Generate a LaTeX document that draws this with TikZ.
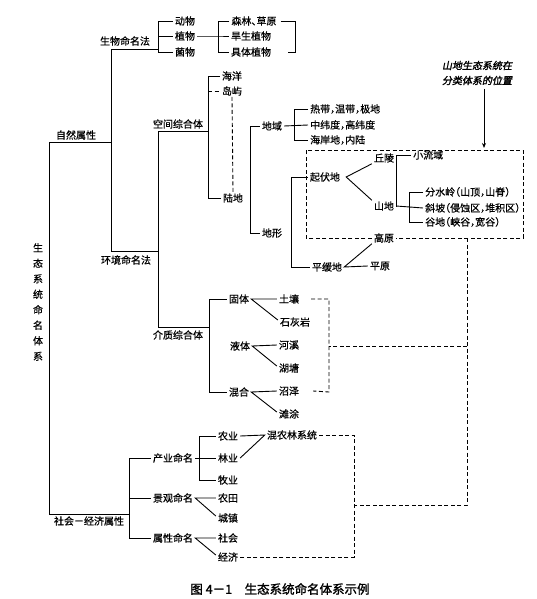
\documentclass[tikz,border=0pt]{standalone}
\usepackage{fontspec}
\newfontfamily\cjk[RawFeature=+halt,FakeBold=0.6]{Noto Sans CJK SC}
\newfontfamily\cjknote[FakeSlant=0.2,FakeBold=1.8]{Noto Sans CJK SC}
\newfontfamily\cjkcap[FakeBold=1.5]{Noto Sans CJK SC}
\usetikzlibrary{arrows.meta}
\begin{document}
\begin{tikzpicture}[x=1pt,y=-1pt,
  lbl/.style={font=\cjk\fontsize{10}{12}\selectfont, inner xsep=2pt, inner ysep=1pt},
  ln/.style={line width=0.9pt},
  dsh/.style={line width=0.9pt, dash pattern=on 4pt off 2.5pt},
]
\useasboundingbox[fill=white] (0,0) rectangle (536,599);

% ---------- nodes ----------
\node[lbl, align=center, font=\cjk\fontsize{10}{15.5}\selectfont] (root) at (38,302) {生\\态\\系\\统\\命\\名\\体\\系};
\node[lbl] (ziran) at (76,135) {自然属性};
\node[lbl] (shehui) at (89,521) {社会－经济属性};
\node[lbl] (swmmf) at (125,41) {生物命名法};
\node[lbl] (hjmmf) at (126,260) {环境命名法};
\node[lbl] (dongwu) at (185,21) {动物};
\node[lbl] (zhiwu) at (185,36) {植物};
\node[lbl] (junwu) at (185,52) {菌物};
\node[lbl] (senlin) at (254,21) {森林、草原};
\node[lbl] (hansheng) at (251,36) {旱生植物};
\node[lbl] (juti) at (251,52) {具体植物};
\node[lbl] (kongjian) at (178,124) {空间综合体};
\node[lbl] (jiezhi) at (178,335) {介质综合体};
\node[lbl] (haiyang) at (232,76) {海洋};
\node[lbl] (daoyu) at (232,91) {岛屿};
\node[lbl] (ludi) at (233,198) {陆地};
\node[lbl] (diyu) at (272,126) {地域};
\node[lbl] (dixing) at (272,233) {地形};
\node[lbl,anchor=west] (redai) at (308,109) {热带，温带，极地};
\node[lbl,anchor=west] (zhongwei) at (308,125) {中纬度，高纬度};
\node[lbl,anchor=west] (haian) at (308,140) {海岸地，内陆};
\node[lbl] (qifu) at (325,177) {起伏地};
\node[lbl] (pinghuan) at (327,267) {平缓地};
\node[lbl] (qiuling) at (384,158) {丘陵};
\node[lbl] (shandi) at (384,206) {山地};
\node[lbl,anchor=west] (xiaoliuyu) at (411,155) {小流域};
\node[lbl,anchor=west] (fenshui) at (423,192) {分水岭（山顶，山脊）};
\node[lbl,anchor=west] (xiepo) at (423,208) {斜坡（侵蚀区，堆积区）};
\node[lbl,anchor=west] (gudi) at (423,222) {谷地（峡谷，宽谷）};
\node[lbl] (gaoyuan) at (384,238) {高原};
\node[lbl] (pingyuan) at (380,266) {平原};
\node[lbl] (guti) at (239,299) {固体};
\node[lbl] (yeti) at (240,346) {液体};
\node[lbl] (hunhe) at (239,392) {混合};
\node[lbl] (turang) at (289,299) {土壤};
\node[lbl] (shihui) at (295,322) {石灰岩};
\node[lbl] (hexi) at (289,345) {河溪};
\node[lbl] (hutang) at (289,368) {湖塘};
\node[lbl] (zhaoze) at (289,391) {沼泽};
\node[lbl] (tantu) at (289,414) {滩涂};
\node[lbl] (chanye) at (173,458) {产业命名};
\node[lbl] (jingguan) at (173,498) {景观命名};
\node[lbl] (shuxing) at (173,538) {属性命名};
\node[lbl] (nongye) at (228,436) {农业};
\node[lbl] (linye) at (228,458) {林业};
\node[lbl] (muye) at (228,480) {牧业};
\node[lbl] (nongtian) at (228,498) {农田};
\node[lbl] (chengzhen) at (228,518) {城镇};
\node[lbl] (shehuiB) at (228,538) {社会};
\node[lbl] (jingji) at (228,557) {经济};
\node[lbl] (hnl) at (292,435) {混农林系统};
\node[font=\cjknote\fontsize{10}{15}\selectfont, align=center] (note) at (477,73) {山地生态系统在\\分类体系的位置};
\node[font=\cjkcap\fontsize{12.5}{14}\selectfont] (cap) at (280,589) {图 4－1\quad 生态系统命名体系示例};

% ---------- coordinates ----------
\coordinate (A1) at (49,142);  \coordinate (A2) at (111,142);
\coordinate (A3) at (49,514);  \coordinate (A4) at (129,514);
\coordinate (B1) at (111,49);  \coordinate (B2) at (158,49);
\coordinate (B3) at (111,251); \coordinate (B4) at (158,251);
\coordinate (C1) at (158,131); \coordinate (C2) at (208,131);
\coordinate (C3) at (158,327); \coordinate (C4) at (209,327);
\coordinate (b1) at (158,0); \coordinate (b2) at (218,0); \coordinate (b3) at (295,0);
\coordinate (bk) at (208,0); \coordinate (bl) at (250,0); \coordinate (bd) at (294,0);
\coordinate (bx) at (291,0); \coordinate (bq) at (396,0); \coordinate (bs) at (409,0);
\coordinate (bj) at (209,0); \coordinate (bc) at (129,0); \coordinate (bp) at (199,0);
\coordinate (boxA) at (306,150); \coordinate (boxB) at (523,150);
\coordinate (boxC) at (523,238); \coordinate (boxD) at (306,238);
\coordinate (dv1) at (467,238); \coordinate (dv2) at (467,505); \coordinate (dv3) at (354,505);
\coordinate (dm) at (467,346); \coordinate (dq) at (329,346);
\coordinate (dk1) at (329,299); \coordinate (dk2) at (329,392);
\coordinate (dh1) at (354,435); \coordinate (dh2) at (354,557);
\coordinate (arS) at (484,89); \coordinate (arE) at (484,148);

% ---------- trunks ----------
\draw[ln] (A3) -- (A1) -- (A2);
\draw[ln] (B2) -- (B1) -- (B3) -- (B4);
\draw[ln] (C2) -- (C1) -- (C3) -- (C4);
\draw[ln] (A3) -- (A4);

% ---------- biological ----------
\draw[ln] (dongwu.west) -| (b1 |- junwu) -- (junwu.west);
\draw[ln] (b1 |- zhiwu) -- (zhiwu.west);
\draw[ln] (zhiwu.east) -- (b2 |- zhiwu) -- (hansheng.west);
\draw[ln] (senlin.west) -| (b2 |- juti) -- (juti.west);
\draw[ln] ([xshift=2pt]senlin.east) -| (b3 |- juti) -- ++(-7,0);

% ---------- spatial ----------
\draw[ln] (haiyang.west) -| (bk |- ludi) -- (ludi.west);
\draw[dsh] (bk |- daoyu) -- (daoyu.west);
\draw[dsh] (daoyu.south) -- (ludi.north);
\draw[ln] (diyu.west) -| (bl |- dixing) -- (dixing.west);
\draw[ln] (redai.west) -| (bd |- haian) -- (haian.west);
\draw[ln] (diyu.east) -- (zhongwei.west);
\draw[ln] (qifu.west) -| (bx |- pinghuan) -- (pinghuan.west);
\draw[ln] (qiuling.south west) -- ([xshift=4pt]qifu.east) -- (shandi.north west);
\draw[ln] (xiaoliuyu.west) -| (bq |- shandi) -- (shandi.east);
\draw[ln] (shandi.east) -- (xiepo.west);
\draw[ln] (fenshui.west) -| (bs |- gudi) -- (gudi.west);
\draw[ln] (gaoyuan.south west) -- (pinghuan.east) -- (pingyuan.west);

% ---------- medium ----------
\draw[ln] (guti.west) -| (bj |- hunhe) -- (hunhe.west);
\draw[ln] (turang.west) -- (guti.east) -- ([yshift=2pt]shihui.west);
\draw[ln] (hexi.west) -- (yeti.east) -- ([yshift=2pt]hutang.west);
\draw[ln] (zhaoze.west) -- (hunhe.east) -- ([yshift=2pt]tantu.west);

% ---------- social ----------
\draw[ln] (chanye.west) -| (bc |- shuxing) -- (shuxing.west);
\draw[ln] (bc |- jingguan) -- (jingguan.west);
\draw[ln] (nongye.west) -| (bp |- muye) -- (muye.west);
\draw[ln] (chanye.east) -- (linye.west);
\draw[ln] (nongtian.west) -- (jingguan.east) -- ([yshift=2pt]chengzhen.west);
\draw[ln] (shehuiB.west) -- (shuxing.east) -- ([yshift=2pt]jingji.west);
\draw[ln] (nongye.east) -- (hnl.west) -- (linye.east);

% ---------- dashed links ----------
\draw[dsh] (gaoyuan.west) -- (boxD) -- (boxA) -- (boxB) -- (boxC) -- (gaoyuan.east);
\draw[dsh] (dv1) -- (dv2) -- (dv3);
\draw[dsh] (hnl.east) -- (dh1) -- (dh2) -- (jingji.east);
\draw[dsh] (dm) -- (dq);
\draw[dsh] ([xshift=10pt]turang.east) -- (dk1) -- (dk2) -- ([xshift=12pt]zhaoze.east);

% ---------- arrow ----------
\draw[ln,-{Stealth[length=5pt,width=4pt]}] (arS) -- (arE);
\end{tikzpicture}
\end{document}
